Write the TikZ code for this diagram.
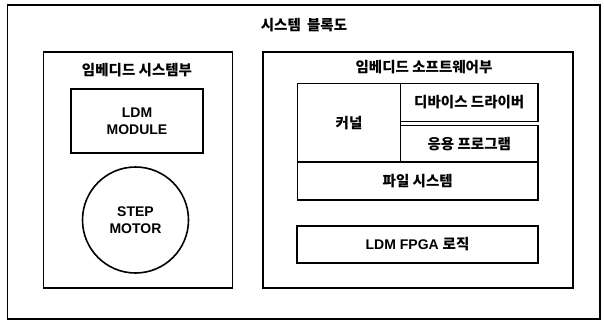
\documentclass[tikz,border=0pt]{standalone}
\usepackage{fontspec}
\setmainfont{Liberation Sans}
\newfontfamily\krfont{Noto Sans CJK KR}
\newfontfamily\latfont{Liberation Sans}
\begin{document}
\begin{tikzpicture}[x=1pt,y=-1pt,
  box/.style={draw=black, line width=1.6pt, rectangle, inner sep=0pt, fill=white},
  kr/.style={font=\krfont\bfseries\fontsize{14.5}{16}\selectfont, inner sep=0pt},
  lat/.style={font=\latfont\bfseries\fontsize{14}{16.5}\selectfont, inner sep=0pt, align=center},
]
\useasboundingbox (0,0) rectangle (604,322);
% outer
\node[box, minimum width=592.5pt, minimum height=314pt] (outer) at (303.75,162) {};
\node[kr] (title) at (304,25) {시스템\hspace{3pt} 블록도};
% left
\node[box, minimum width=189pt, minimum height=236pt] (left) at (138,170) {};
\node[kr] (lefttitle) at (137,70) {임베디드 시스템부};
\node[box, minimum width=132pt, minimum height=64pt] (ldm) at (137,121) {};
\node[lat] (ldmtext) at (ldm.center) {LDM\\MODULE};
\node[draw=black, line width=1.6pt, circle, minimum size=106pt, inner sep=0pt] (motor) at (135.5,220) {};
\node[lat] (motortext) at (motor.center) {STEP\\MOTOR};
% right
\node[box, minimum width=310pt, minimum height=236pt] (right) at (418,170) {};
\node[kr] (righttitle) at (424,67) {임베디드 소프트웨어부};
\node[box, minimum width=103pt, minimum height=78.5pt] (kernel) at (349,122.75) {};
\node[kr] at (kernel.center) {커널};
\node[box, minimum width=137.5pt, minimum height=38pt] (dd) at (469.25,102.5) {};
\node[kr] at (dd.center) {디바이스 드라이버};
\node[box, minimum width=137.5pt, minimum height=36.5pt] (app) at (469.25,143.75) {};
\node[kr] at (app.center) {응용 프로그램};
\node[box, minimum width=240.5pt, minimum height=38pt] (fs) at (417.75,181) {};
\node[kr] at (fs.center) {파일 시스템};
\node[box, minimum width=241pt, minimum height=37pt] (fpga) at (417.5,244.5) {};
\node[kr, font=\latfont\bfseries\fontsize{14}{16.5}\selectfont] at (fpga.center) {LDM FPGA {\krfont\fontsize{14.5}{16}\selectfont 로직}};
\end{tikzpicture}
\end{document}
